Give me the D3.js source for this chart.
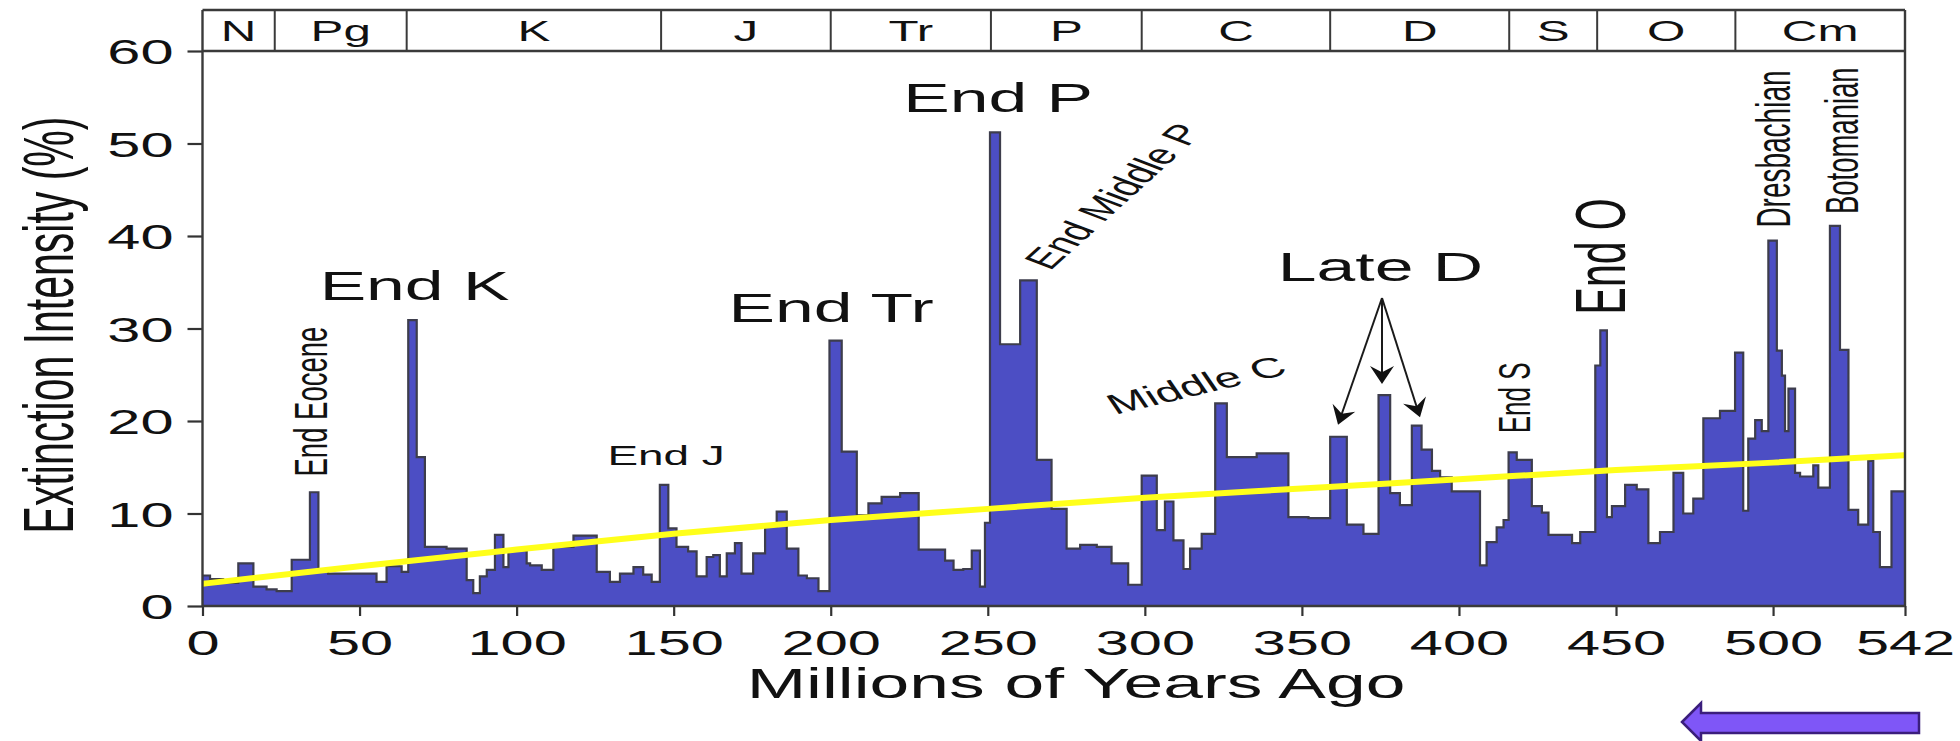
<!DOCTYPE html>
<html><head><meta charset="utf-8">
<script src="https://cdn.jsdelivr.net/npm/d3@7"></script>
<style>html,body{margin:0;padding:0;background:#fff;overflow:hidden}
text{font-family:"Liberation Sans",Arial,sans-serif;fill:#111}</style>
</head><body>
<svg id="chart" width="1960" height="741"></svg>
<script>
// ---- data ----
const binStart = [
  0,2.4,6.6,11.4,16.2,20.4,23.6,28.4,34.2,36.9,
  40.0,55.4,58.6,63.4,65.5,68.2,70.8,77.7,84.1,86.2,
  88.3,90.5,93.1,95.8,97.4,103.2,104.3,108.0,111.7,118.1,
  125.5,129.7,132.9,137.2,140.3,143.0,145.6,148.3,150.9,154.6,
  157.3,160.5,162.6,164.7,166.9,169.5,171.6,175.3,179.1,182.8,
  186.0,189.7,192.4,196.1,199.6,203.5,208.3,212.0,216.2,222.1,
  228.0,236.4,239.1,242.2,244.9,247.5,249.1,250.7,253.9,260.3,
  265.6,270.3,275.1,279.4,284.7,289.4,294.7,299.0,303.8,306.4,
  309.1,312.3,314.4,318.1,322.4,326.1,335.6,345.7,352.1,359.0,
  364.3,369.6,374.4,378.1,381.2,385.0,388.1,391.4,394.0,397.7,
  406.7,408.8,412.0,414.2,415.8,418.4,423.2,426.4,428.5,436.0,
  438.6,443.4,445.0,447.1,448.7,452.9,456.6,460.3,464.0,468.3,
  471.4,474.6,477.8,483.1,487.9,490.5,492.1,494.3,496.4,498.5,
  501.2,502.8,503.8,504.9,507.0,508.6,512.8,514.4,518.1,521.3,
  524.0,527.1,530.3,531.9,534.0,537.7
];
const intensity = [
  3.3,2.9,2.5,4.6,2.1,1.8,1.6,5.0,12.3,3.8,
  3.5,2.6,4.3,3.7,30.9,16.1,6.4,6.2,2.8,1.4,
  3.2,3.9,7.7,4.2,6.0,4.6,4.4,3.9,6.4,7.6,
  3.7,2.6,3.5,4.2,3.4,2.6,13.1,8.4,6.4,5.9,
  3.2,5.3,5.5,3.2,5.7,6.8,3.5,5.7,8.6,10.2,
  6.2,3.3,3.0,1.6,28.7,16.7,9.8,11.1,11.8,12.2,
  6.1,4.9,3.9,4.0,6.0,2.1,9.0,51.2,28.3,35.2,
  15.8,10.5,6.2,6.6,6.4,4.6,2.3,14.1,8.2,11.3,
  7.1,4.0,6.2,7.8,21.9,16.1,16.5,9.6,9.5,18.3,
  8.8,7.8,22.8,12.2,10.9,19.5,16.9,14.6,13.9,12.4,
  4.4,6.9,8.5,9.3,16.6,15.8,10.8,10.1,7.7,6.8,
  8.0,26.0,29.8,9.6,10.8,13.1,12.6,6.8,8.0,14.4,
  10.0,11.6,20.3,21.1,27.4,10.3,18.1,20.1,18.9,39.5,
  27.6,24.9,18.9,23.5,14.4,14.0,15.2,12.8,41.1,27.7,
  10.4,8.8,15.7,8.0,4.2,12.4
];
const endAge = 542;

const trendAge   = [0, 50, 100, 150, 200, 250, 300, 350, 400, 450, 500, 542];
const trendValue = [2.4, 4.3, 6.1, 7.8, 9.3, 10.5, 11.7, 12.7, 13.7, 14.7, 15.5, 16.3];

const periodBounds = [0, 23, 65, 146, 200, 251, 299, 359, 416, 444, 488, 542];
const periodLabels = ["N", "Pg", "K", "J", "Tr", "P", "C", "D", "S", "O", "Cm"];

const xTicks = [0, 50, 100, 150, 200, 250, 300, 350, 400, 450, 500, 542];
const yTicks = [0, 10, 20, 30, 40, 50, 60];

// annotation texts: angle 0 = horizontal (value at baseline), 90 = vertical (age at baseline), other = sloped (centre)
const annText  = ["End K", "End Tr", "End P", "Late D", "End J", "Middle C", "End Middle P",
                  "End Eocene", "End S", "End O", "Dresbachian", "Botomanian"];
const annAge   = [67.5, 200.1, 253.3, 375.0, 147.6, 316.3, 289.9, 39.6, 422.6, 452.9, 505.4, 527.0];
const annValue = [33.1, 30.7, 53.4, 35.1, 15.2, 23.9, 44.3, 22.1, 22.5, 37.8, 49.4, 50.3];
const annSize  = [41, 41, 41, 41, 27, 28, 28, 27.5, 26, 41, 28, 27.5];
const annAngle = [0, 0, 0, 0, 0, 22, 57, 90, 90, 90, 90, 90];

// Late D arrows: apex and tips (age, value)
const arrowApex = [375.5, 33.3];
const arrowTipAge   = [361.5, 375.5, 387.6];
const arrowTipValue = [19.6, 24.0, 20.4];

// ---- drawing ----
const SX = 1.7;   // horizontal text stretch seen in the picture
const svg = d3.select("#chart");
const x = d3.scaleLinear().domain([0, 542]).range([202.5, 1905]);
const y = d3.scaleLinear().domain([0, 60]).range([606, 51]);
const headerTop = 10;

const pts = binStart.map((a, i) => ({age: a, v: intensity[i]}));
pts.push({age: endAge, v: intensity[intensity.length - 1]});

svg.append("path").datum(pts)
  .attr("d", d3.area().curve(d3.curveStepAfter).x(d => x(d.age)).y0(y(0)).y1(d => y(d.v)))
  .attr("fill", "#4c4ec4");
svg.append("path").datum(pts)
  .attr("d", d3.line().curve(d3.curveStepAfter).x(d => x(d.age)).y(d => y(d.v)))
  .attr("fill", "none").attr("stroke", "#3d3d4c").attr("stroke-width", 2.2);

// trend line
svg.append("path").datum(trendAge.map((a, i) => [a, trendValue[i]]))
  .attr("d", d3.line().curve(d3.curveMonotoneX).x(d => x(d[0])).y(d => y(d[1])))
  .attr("fill", "none").attr("stroke", "#ffff1a").attr("stroke-width", 6);

// axes
const yAxis = svg.append("g").attr("transform", `translate(${x(0)},0)`)
  .call(d3.axisLeft(y).tickValues(yTicks).tickSize(15).tickFormat(d3.format("d")));
yAxis.select(".domain").remove();
yAxis.selectAll(".tick line").attr("stroke", "#333").attr("stroke-width", 2.2);
yAxis.selectAll(".tick text").attr("x", null).attr("dy", "0.36em").attr("font-size", 35)
  .attr("font-family", null).attr("text-anchor", "end")
  .attr("transform", `translate(-29,0) scale(${SX},1)`);

const xAxis = svg.append("g").attr("transform", `translate(0,${y(0)})`)
  .call(d3.axisBottom(x).tickValues(xTicks).tickSize(10).tickFormat(d3.format("d")));
xAxis.select(".domain").remove();
xAxis.selectAll(".tick line").attr("stroke", "#333").attr("stroke-width", 2.2);
xAxis.selectAll(".tick text").attr("y", null).attr("dy", null).attr("font-size", 35)
  .attr("font-family", null).attr("text-anchor", "middle")
  .attr("transform", `translate(0,49) scale(${SX},1)`);

// frame lines
const frame = svg.append("g").attr("stroke", "#3a3a3a").attr("stroke-width", 2.4).attr("fill", "none");
frame.append("line").attr("x1", x(0)).attr("x2", x(0)).attr("y1", headerTop).attr("y2", y(0));
frame.append("line").attr("x1", x(542)).attr("x2", x(542)).attr("y1", headerTop).attr("y2", y(0));
frame.append("line").attr("x1", x(0)).attr("x2", x(542)).attr("y1", y(0)).attr("y2", y(0));
frame.append("line").attr("x1", x(0)).attr("x2", x(542)).attr("y1", headerTop).attr("y2", headerTop);
frame.append("line").attr("x1", x(0)).attr("x2", x(542)).attr("y1", y(60)).attr("y2", y(60));

// geologic period header
const hdr = svg.append("g");
periodBounds.slice(1, -1).forEach(b => {
  hdr.append("line").attr("x1", x(b)).attr("x2", x(b)).attr("y1", headerTop).attr("y2", y(60))
    .attr("stroke", "#3a3a3a").attr("stroke-width", 2);
});
periodLabels.forEach((lab, i) => {
  const cx = x((periodBounds[i] + periodBounds[i + 1]) / 2);
  hdr.append("g").attr("transform", `translate(${cx},41) scale(${SX},1)`)
    .append("text").attr("text-anchor", "middle").attr("font-size", 29).text(lab);
});

// helper for stretched text
function sText(px, py, angle, str, size, dy) {
  svg.append("g").attr("transform", `translate(${px},${py}) scale(${SX},1) rotate(${-angle})`)
    .append("text").attr("text-anchor", "middle").attr("font-size", size)
    .attr("dy", dy).text(str);
}

// axis titles
sText(73, 325, 90, "Extinction Intensity (%)", 41, 0);
sText(1076, 698, 0, "Millions of Years Ago", 42, 0);

// annotations
annText.forEach((t, i) => {
  const ang = annAngle[i];
  const dy = (ang === 0 || ang === 90) ? 0 : "0.35em";
  sText(x(annAge[i]), y(annValue[i]), ang, t, annSize[i], dy);
});

// Late D arrows
const ax0 = x(arrowApex[0]), ay0 = y(arrowApex[1]);
arrowTipAge.forEach((a, i) => {
  const tx = x(a), ty = y(arrowTipValue[i]);
  const dx = tx - ax0, dyv = ty - ay0, len = Math.hypot(dx, dyv);
  const ux = dx / len, uy = dyv / len, nx = -uy, ny = ux;
  const L = 18, W = 12;
  svg.append("line").attr("x1", ax0).attr("y1", ay0)
    .attr("x2", tx - ux * L * 0.6).attr("y2", ty - uy * L * 0.6)
    .attr("stroke", "#1a1a1a").attr("stroke-width", 2);
  const p = [[tx, ty], [tx - ux * L + nx * W, ty - uy * L + ny * W],
             [tx - ux * L * 0.65, ty - uy * L * 0.65], [tx - ux * L - nx * W, ty - uy * L - ny * W]];
  svg.append("path").attr("d", "M" + p.map(q => q.join(",")).join("L") + "Z").attr("fill", "#111");
});

// decorative block arrow at bottom right
svg.append("path")
  .attr("d", "M1682,722 L1701,703 L1701,713 L1919,713 L1919,733 L1701,733 L1701,741 Z")
  .attr("fill", "#7f56f7").attr("stroke", "#3b1e7c").attr("stroke-width", 2.5)
  .attr("stroke-linejoin", "miter");
</script>
</body></html>
